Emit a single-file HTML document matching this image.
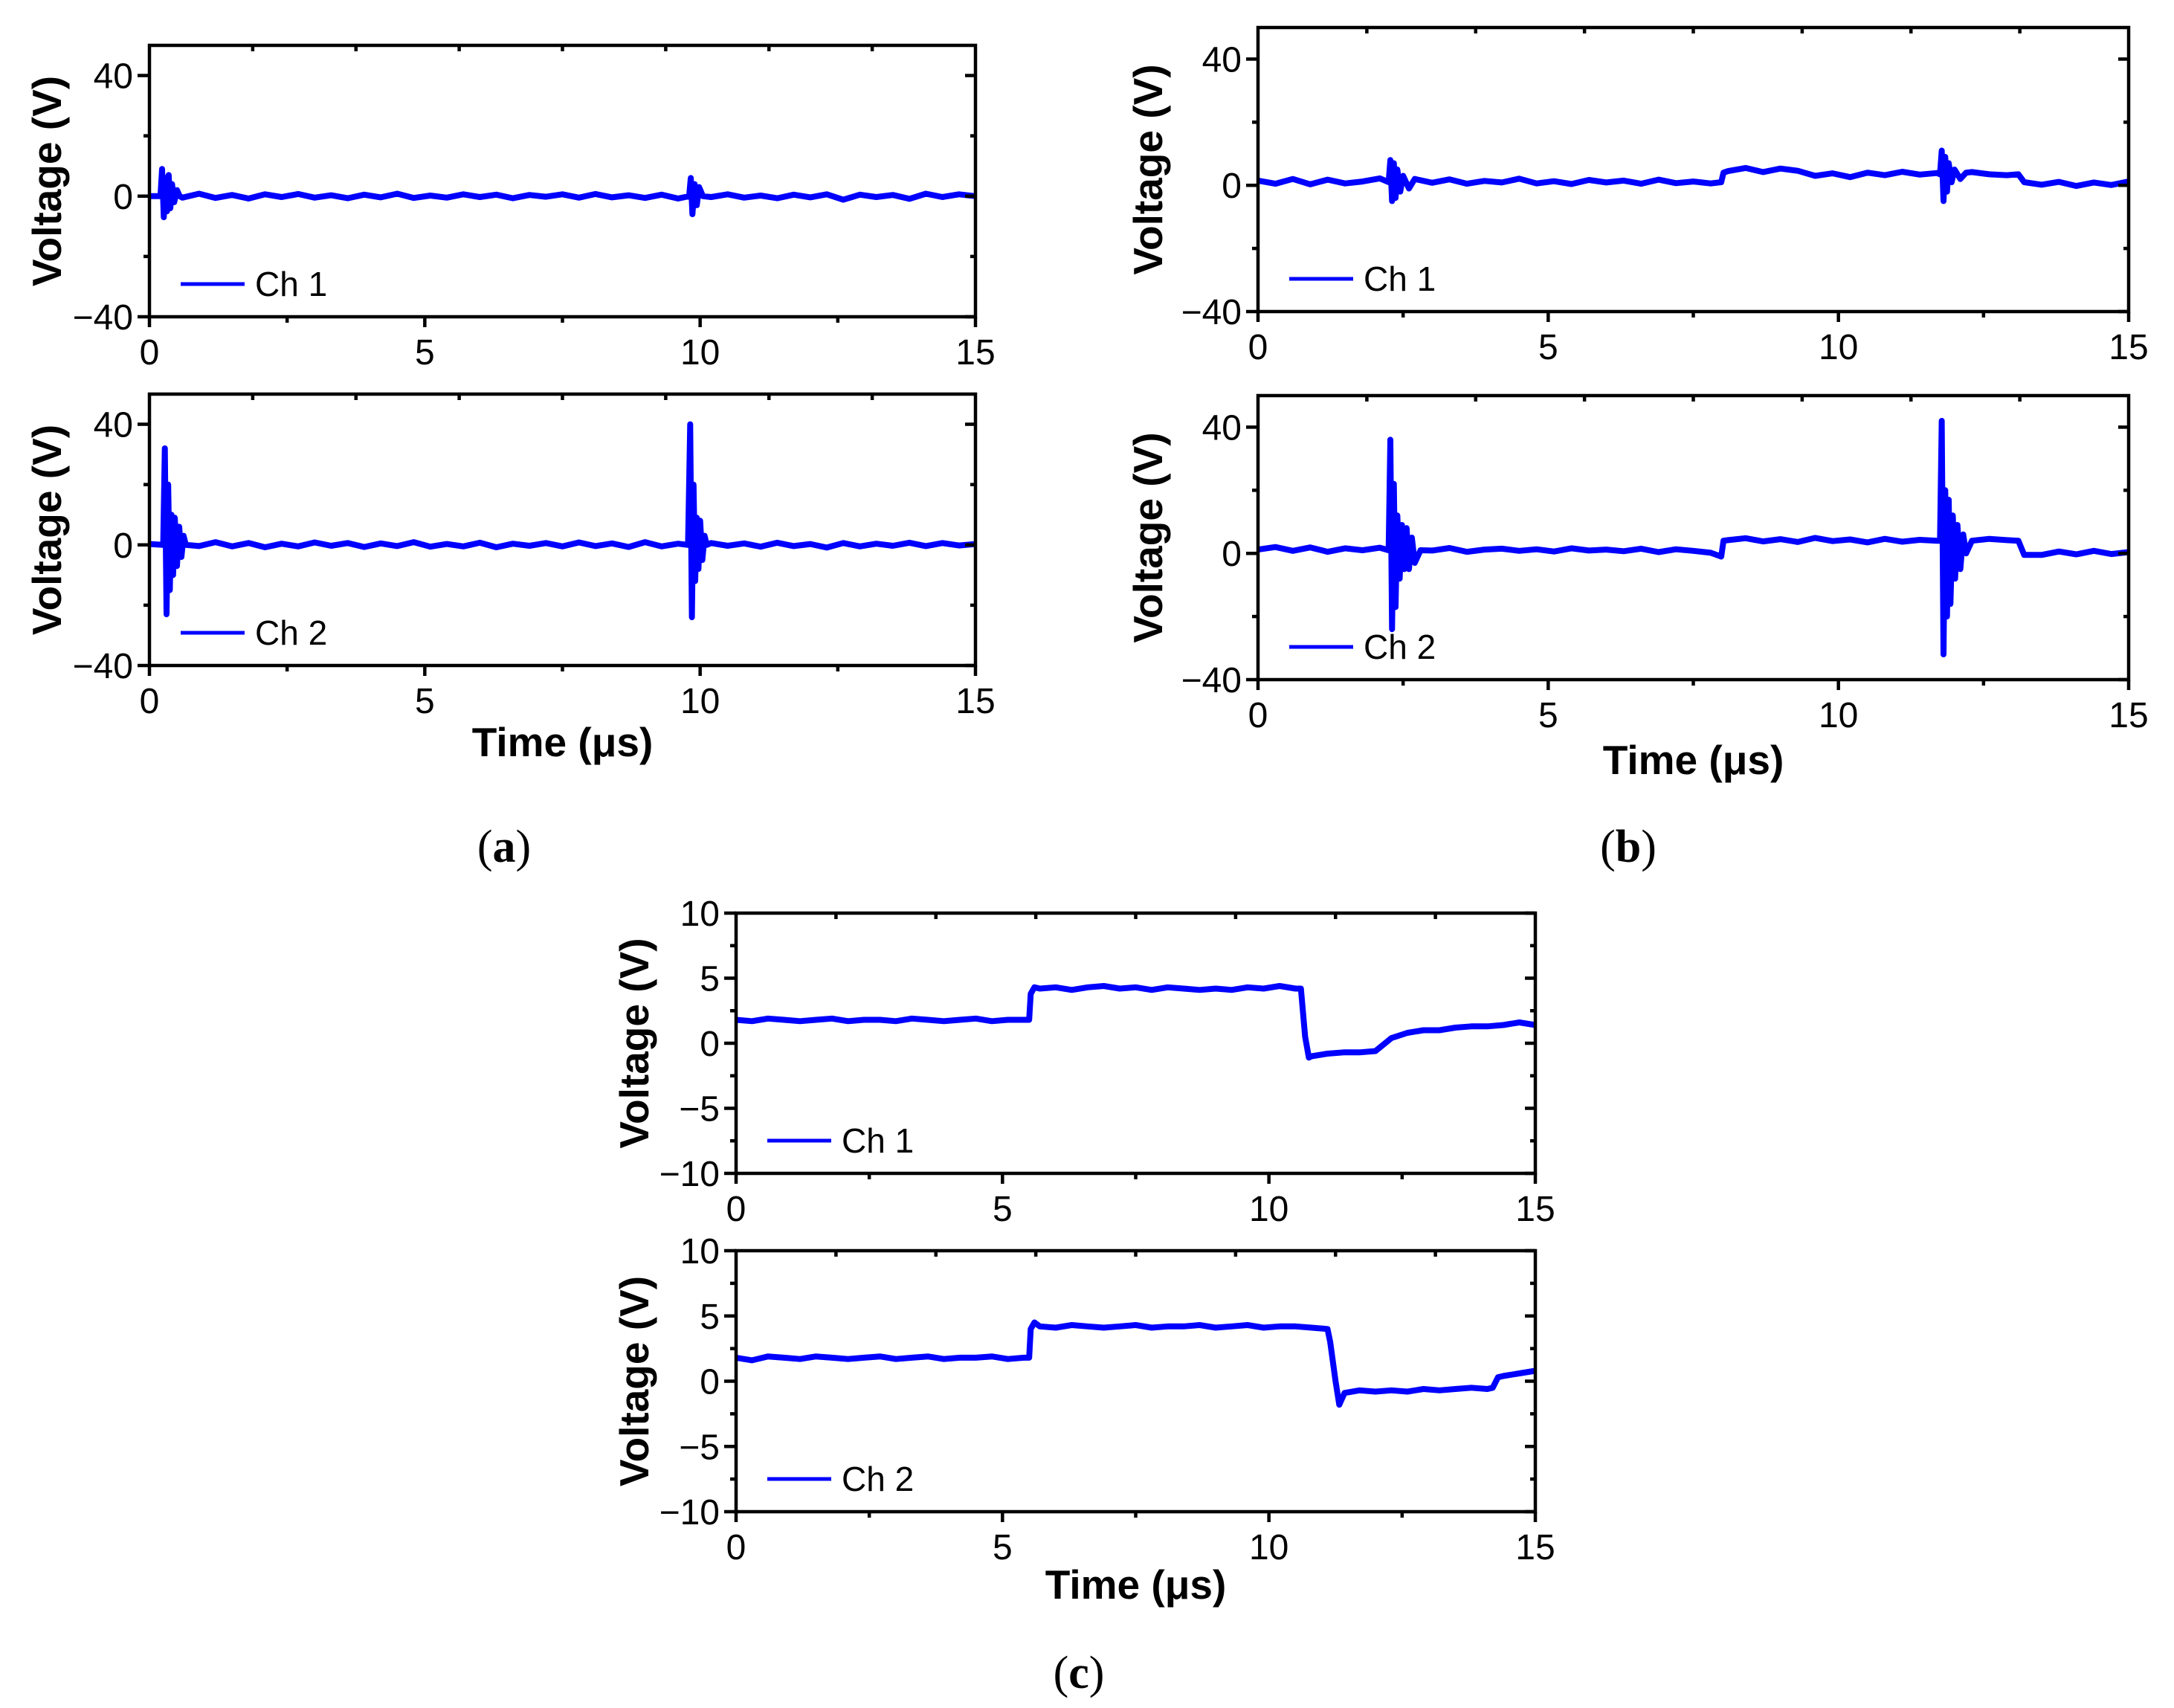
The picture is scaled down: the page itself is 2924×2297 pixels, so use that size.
<!DOCTYPE html>
<html><head><meta charset="utf-8">
<style>
html,body{margin:0;padding:0;background:#fff;}
svg{display:block;}
text{font-family:"Liberation Sans",Arial,sans-serif;fill:#000;}
.lab{font-family:"Liberation Serif","Times New Roman",serif;font-size:62px;}
</style></head>
<body>
<svg id="fig" width="2924" height="2297" viewBox="0 0 2924 2297" xmlns="http://www.w3.org/2000/svg">
<text class="lab" x="678" y="1159" text-anchor="middle">(<tspan font-weight="bold">a</tspan>)</text>
<text class="lab" x="2190" y="1159" text-anchor="middle">(<tspan font-weight="bold">b</tspan>)</text>
<text class="lab" x="1451" y="2270" text-anchor="middle">(<tspan font-weight="bold">c</tspan>)</text>
</svg>
<script>
// Shared time grid step (µs) for baseline samples
const baseStep = 0.3;
// Panel a, Ch 1
const a1Base = [0,0.5,-0.5,0.8,-0.6,0.4,-0.8,0.6,-0.3,0.7,-0.5,0.3,-0.7,0.5,-0.4,0.8,-0.6,0.2,-0.5,0.6,-0.3,0.5,-0.7,0.4,-0.2,0.6,-0.5,0.7,-0.4,0.3,-0.6,0.5,-0.8,0.4,-0.3,0.6,-0.5,0.2,-0.7,0.5,-0.4,0.6,-1.2,0.5,-0.3,0.4,-0.9,0.8,-0.3,0.6,0];
const a1EvT = [0.2,0.23,0.26,0.29,0.32,0.35,0.38,0.41,0.45,0.5,0.55, 9.8,9.83,9.86,9.9,9.94,9.98,10.05];
const a1EvV = [0,9,-7,6,-5,7,-4,4,-2,2,0, 0,6,-6,4,-3,3,0];
// Panel a, Ch 2
const a2Base = [0.3,-0.6,0.7,-0.4,0.9,-0.5,0.6,-0.8,0.4,-0.5,0.8,-0.3,0.6,-0.7,0.5,-0.4,0.9,-0.6,0.3,-0.5,0.7,-0.8,0.4,-0.3,0.6,-0.5,0.8,-0.4,0.5,-0.7,0.9,-0.5,0.4,-0.8,0.6,-0.3,0.5,-0.6,0.7,-0.4,0.3,-0.9,0.6,-0.5,0.4,-0.3,0.7,-0.4,0.6,-0.2,0.3];
const a2EvT = [0.25,0.28,0.31,0.34,0.37,0.4,0.43,0.46,0.5,0.54,0.58,0.62,0.66, 9.78,9.82,9.85,9.88,9.91,9.94,9.97,10.0,10.04,10.08,10.12];
const a2EvV = [0,32,-23,20,-15,10,-10,9,-7,6,-4,3,0, 0,40,-24,20,-12,9,-8,8,-5,3,0];
// Panel b, Ch 1
const b1Base = [1.5,0.5,2,0.3,1.8,0.6,1.2,2.2,0.4,1.6,0.8,1.9,0.5,1.4,0.9,2.1,0.6,1.3,0.4,1.7,0.9,1.5,0.5,1.8,0.7,1.2,0.6,4.5,5.5,4.2,5.3,4.6,3,3.8,2.6,4,3.2,4.3,3.4,3.9,3.1,4.2,3.5,3.2,0.8,0.2,1.1,-0.2,0.9,0.1,1.2];
const b1EvT = [2.25,2.28,2.31,2.34,2.37,2.4,2.45,2.5,2.6,2.7, 7.98,8.02, 11.75,11.78,11.81,11.84,11.87,11.9,11.95,12.0,12.1,12.2, 13.1,13.2];
const b1EvV = [1,8,-5,7,-4,5,-2,3,-1,2, 1,4, 3.5,11,-5,9,-2,7,1,5,2,4, 3.5,1];
// Panel b, Ch 2
const b2Base = [1.2,2,0.8,1.9,0.5,1.6,1,1.8,0.6,1.4,0.9,1.7,0.5,1.2,1.5,0.8,1.3,0.6,1.6,0.9,1.2,0.7,1.5,0.4,1.3,0.8,0.2,4.2,4.8,3.8,4.5,3.6,4.9,3.9,4.4,3.5,4.6,3.7,4.3,4,4.5,3.8,4.6,4.2,0.3,-0.5,0.6,-0.3,0.8,-0.2,0.4];
const b2EvT = [2.25,2.28,2.31,2.34,2.37,2.4,2.44,2.48,2.52,2.56,2.6,2.65,2.7,2.8, 7.98,8.02, 11.75,11.78,11.81,11.84,11.87,11.9,11.93,11.97,12.01,12.05,12.1,12.15,12.2,12.3, 13.1,13.2];
const b2EvV = [1,36,-24,22,-17,12,-8,9,-5,8,-5,5,-3,1, -1,4, 4,42,-32,20,-20,17,-16,12,-8,9,-5,6,0,4, 4,-0.5];
// Panel c, Ch 1
const c1Base = [1.8,1.7,1.9,1.8,1.7,1.8,1.9,1.7,1.8,1.8,1.7,1.9,1.8,1.7,1.8,1.9,1.7,1.8,1.8,4.2,4.3,4.1,4.3,4.4,4.2,4.3,4.1,4.3,4.2,4.1,4.2,4.1,4.3,4.2,4.4,4.2,-1,-0.8,-0.7,-0.7,-0.6,0.4,0.8,1.0,1.0,1.2,1.3,1.3,1.4,1.6,1.4];
const c1EvT = [5.5,5.53,5.6,10.6,10.68,10.75];
const c1EvV = [1.8,3.8,4.3,4.2,0.5,-1.1];
// Panel c, Ch 2
const c2Base = [1.8,1.6,1.9,1.8,1.7,1.9,1.8,1.7,1.8,1.9,1.7,1.8,1.9,1.7,1.8,1.8,1.9,1.7,1.8,4.2,4.1,4.3,4.2,4.1,4.2,4.3,4.1,4.2,4.2,4.3,4.1,4.2,4.3,4.1,4.2,4.2,4.1,4.0,-0.8,-0.7,-0.8,-0.7,-0.8,-0.6,-0.7,-0.6,-0.5,-0.6,0.4,0.6,0.8];
const c2EvT = [5.5,5.53,5.6,11.15,11.25,11.32,11.42,14.2,14.3];
const c2EvV = [1.8,4.0,4.5,3.0,0,-1.8,-0.9,-0.5,0.3];

// Tick label arrays
const xTicks = [0,5,10,15];
const yTicksAB = [-40,0,40];
const yTicksC = [-10,-5,0,5,10];

const NS = "http://www.w3.org/2000/svg";
const svg = document.getElementById('fig');
function mk(tag, attrs, parent){
  const e = document.createElementNS(NS, tag);
  for (const k in attrs) e.setAttribute(k, attrs[k]);
  (parent||svg).appendChild(e);
  return e;
}
function merge(base, evT, evV){
  const pts = [];
  const wins = [];
  let s = 0;
  for (let i=1;i<=evT.length;i++){
    if (i===evT.length || evT[i] < evT[i-1] || evT[i]-evT[i-1] > 0.5){ wins.push([evT[s],evT[i-1]]); s=i; }
  }
  base.forEach((v,i)=>{
    const t = i*baseStep;
    if (!wins.some(w=>t>=w[0]-0.01 && t<=w[1]+0.01)) pts.push([t,v]);
  });
  evT.forEach((t,i)=>pts.push([t,evV[i]]));
  pts.sort((p,q)=>p[0]-q[0]);
  return pts;
}

function panel(o){
  const g = mk('g', {});
  
  
  const X = t => o.x0 + (t - 0) / 15 * (o.x1 - o.x0);
  const Y = v => o.y1 - (v - o.ymin) / (o.ymax - o.ymin) * (o.y1 - o.y0);
  const pts = merge(o.base, o.evT, o.evV);
  const line = mk('polyline', {points: pts.map(p=>X(p[0]).toFixed(1)+','+Y(p[1]).toFixed(1)).join(' '), fill:'none', stroke:'#0000ff', 'stroke-width':8, 'stroke-linejoin':'round'}, g);
  
  
  const fr = mk('rect', {x:o.x0, y:o.y0, width:o.x1-o.x0, height:o.y1-o.y0, fill:'none', stroke:'#000', 'stroke-width':4.5}, g);
  
  
  for (let t=0;t<=15;t+=2.5){
    const maj = (t%5===0);
    mk('line',{x1:X(t),x2:X(t),y1:o.y1,y2:o.y1+(maj?14:8),stroke:'#000','stroke-width':4.5},g);
  }
  for (let k=1;k<8;k++){ const t=k*15/8; mk('line',{x1:X(t),x2:X(t),y1:o.y0,y2:o.y0+8,stroke:'#000','stroke-width':4.5},g); }
  xTicks.forEach(t=>{
    const tx = mk('text',{x:X(t),y:o.y1+64,'font-size':48,'text-anchor':'middle'},g);
    tx.textContent = t;
    
    
  });
  for (let v=o.ymin; v<=o.ymax+1e-6; v+=o.minor){
    const maj = o.yt.indexOf(v)>=0;
    mk('line',{x1:o.x0,x2:o.x0-(maj?16:8),y1:Y(v),y2:Y(v),stroke:'#000','stroke-width':4.5},g);
    mk('line',{x1:o.x1,x2:o.x1-(maj?14:7),y1:Y(v),y2:Y(v),stroke:'#000','stroke-width':4.5},g);
  }
  o.yt.forEach(v=>{
    const tx = mk('text',{x:o.x0-22,y:Y(v)+17,'font-size':48,'text-anchor':'end'},g);
    tx.textContent = v<0 ? '\u2212'+Math.abs(v) : v;
    
    
  });
  const yc = (o.y0+o.y1)/2;
  const yt = mk('text',{x:0,y:0,'font-size':55,'font-weight':'bold','text-anchor':'middle',transform:'translate('+(o.ytx)+','+yc+') rotate(-90)'},g);
  yt.textContent = 'Voltage (V)';
  
  
  const lg = mk('g',{},g);
  
  
  mk('line',{x1:o.x0+42,x2:o.x0+128,y1:o.y1-44,y2:o.y1-44,stroke:'#0000ff','stroke-width':5},lg);
  const lt = mk('text',{x:o.x0+142,y:o.y1-28,'font-size':46},lg);
  lt.textContent = o.leg;
  if (o.xt){
    const xt = mk('text',{x:(o.x0+o.x1)/2,y:o.xt,'font-size':55,'font-weight':'bold','text-anchor':'middle'},g);
    xt.textContent = 'Time (\u03bcs)';
    
    
  }
}

panel({name:'panel-a-ch1',x0:201,x1:1312,y0:61,y1:426,ymin:-40,ymax:50,minor:20,yt:yTicksAB,base:a1Base,evT:a1EvT,evV:a1EvV,leg:'Ch 1',ytx:82});
panel({name:'panel-a-ch2',x0:201,x1:1312,y0:530,y1:895,ymin:-40,ymax:50,minor:20,yt:yTicksAB,base:a2Base,evT:a2EvT,evV:a2EvV,leg:'Ch 2',ytx:82,xt:1017});
panel({name:'panel-b-ch1',x0:1692,x1:2863,y0:37,y1:419,ymin:-40,ymax:50,minor:20,yt:yTicksAB,base:b1Base,evT:b1EvT,evV:b1EvV,leg:'Ch 1',ytx:1563});
panel({name:'panel-b-ch2',x0:1692,x1:2863,y0:532,y1:914,ymin:-40,ymax:50,minor:20,yt:yTicksAB,base:b2Base,evT:b2EvT,evV:b2EvV,leg:'Ch 2',ytx:1563,xt:1041});
panel({name:'panel-c-ch1',x0:990,x1:2065,y0:1228,y1:1578,ymin:-10,ymax:10,minor:2.5,yt:yTicksC,base:c1Base,evT:c1EvT,evV:c1EvV,leg:'Ch 1',ytx:872});
panel({name:'panel-c-ch2',x0:990,x1:2065,y0:1682,y1:2033,ymin:-10,ymax:10,minor:2.5,yt:yTicksC,base:c2Base,evT:c2EvT,evV:c2EvV,leg:'Ch 2',ytx:872,xt:2150});
</script>
</body></html>
